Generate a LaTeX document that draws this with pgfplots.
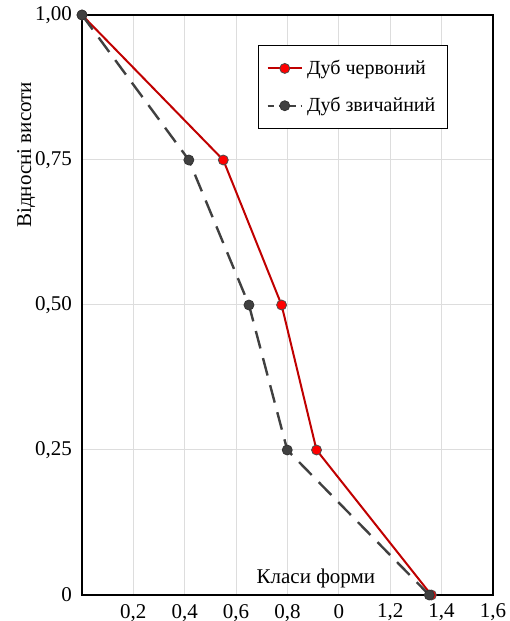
\documentclass[border=0pt]{standalone}
\usepackage{fontspec}
\setmainfont{Liberation Serif}
\usepackage{pgfplots}
\pgfplotsset{compat=1.18}
\definecolor{redline}{HTML}{C00000}
\definecolor{redfill}{HTML}{FF0000}
\definecolor{grayline}{HTML}{404040}
\definecolor{gridc}{HTML}{DDDDDD}
\begin{document}
\begin{tikzpicture}
\useasboundingbox (-41pt,-13pt) rectangle (213.5pt,297.5pt);
\begin{axis}[
  at={(0,0)}, anchor=south west,
  scale only axis, width=205.5pt, height=290pt,
  xmin=0, xmax=1.6, ymin=0, ymax=1,
  xtick={0.2,0.4,0.6,0.8,1.0,1.2,1.4,1.6},
  xticklabels={{0,2},{0,4},{0,6},{0,8},0,{1,2},{1,4},{1,6}},
  ytick={0,0.25,0.5,0.75,1},
  yticklabels={0,{0,25},{0,50},{0,75},{1,00}},
  major tick length=0pt,
  tick style={draw=none},
  grid=major,
  grid style={gridc, line width=0.5pt},
  axis line style={black, line width=0.8pt},
  tick label style={font=\fontsize{10.5}{12}\selectfont},
  /pgf/number format/assume math mode=true,
  xticklabel style={yshift=-1pt},
  yticklabel style={xshift=-1.5pt},
  xlabel={Класи форми},
  xlabel style={at={(axis description cs:0.569,0.029)}, anchor=center, font=\fontsize{10.5}{12}\selectfont},
  ylabel={Відносні висоти},
  ylabel style={at={(axis description cs:-0.136,0.759)}, anchor=center, rotate=0, font=\fontsize{10.5}{12}\selectfont},
  legend style={at={(axis description cs:0.428,0.948)}, anchor=north west,
    draw=black, line width=0.6pt, font=\fontsize{10}{12}\selectfont,
    row sep=6pt, inner xsep=4pt, inner ysep=5pt},
  legend cell align=left,
  clip=false,
]
\addplot[redline, line width=1pt, mark=*, mark size=2.5pt,
  mark options={fill=redfill, draw=black!70, line width=0.4pt, solid}]
  coordinates {(0,1) (0.55,0.75) (0.777,0.5) (0.913,0.25) (1.36,0)};
\addlegendentry{Дуб червоний}
\addplot[forget plot, grayline, line width=1.2pt, dash pattern=on 9pt off 5pt, mark=*, mark size=2.5pt,
  mark options={fill=grayline, draw=black!80, line width=0.4pt, solid}]
  coordinates {(0,1) (0.416,0.75) (0.65,0.5) (0.799,0.25) (1.352,0)};
\addlegendimage{grayline, line width=1.2pt, dash pattern=on 3pt off 2.5pt, mark=*, mark size=2.5pt,
  mark options={fill=grayline, draw=black!80, line width=0.4pt, solid}}
\addlegendentry{Дуб звичайний}
\end{axis}
\end{tikzpicture}
\end{document}
